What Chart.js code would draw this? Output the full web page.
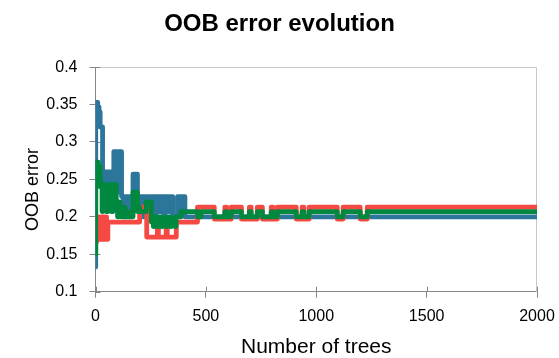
<!DOCTYPE html>
<html>
<head>
<meta charset="utf-8">
<script src="https://cdn.jsdelivr.net/npm/chart.js@4.4.1/dist/chart.umd.min.js"></script>
<style>
  html, body { margin: 0; padding: 0; background: #ffffff; }
  #wrap { width: 559px; height: 358px; }
</style>
</head>
<body>
<div id="wrap"><canvas id="c" width="559" height="358"></canvas></div>
<script>
// ---- data (number of trees -> OOB error), step points ----
const blueTrees = [0,1,10,16,21,32,38,42,48,52,58,62,68,72,78,83,90,94,100,104,110,114,118,126,130,140,144,154,158,170,178,182,190,200,204,214,218,232,236,250,254,270,274,290,294,310,314,330,334,350,372,385,389,405,2000];
const blueOOB   = [0.133,0.353,0.347,0.34,0.32,0.26,0.233,0.26,0.227,0.26,0.233,0.26,0.24,0.26,0.233,0.287,0.247,0.287,0.233,0.287,0.24,0.287,0.227,0.207,0.227,0.213,0.227,0.2,0.227,0.257,0.22,0.257,0.227,0.213,0.227,0.2,0.227,0.2,0.227,0.207,0.227,0.2,0.227,0.207,0.227,0.2,0.227,0.207,0.227,0.2,0.227,0.207,0.227,0.2,0.2];

const redTrees = [0,1,6,10,16,20,26,30,36,40,46,50,56,200,232,280,285,320,325,366,462,538,586,594,615,661,697,705,733,756,796,804,824,909,936,944,968,1095,1122,1199,1231,2000];
const redOOB   = [0.2,0.167,0.2,0.17,0.2,0.17,0.2,0.17,0.2,0.17,0.2,0.17,0.193,0.213,0.173,0.187,0.173,0.187,0.173,0.193,0.213,0.197,0.213,0.197,0.213,0.197,0.213,0.197,0.213,0.197,0.213,0.197,0.213,0.197,0.213,0.197,0.213,0.197,0.213,0.197,0.213,0.213];

const greenTrees = [0,1,12,20,22,30,34,49,57,72,79,94,100,104,110,118,130,134,150,155,170,190,196,200,230,253,262,266,280,284,300,304,320,324,340,344,360,365,388,463,478,538,586,594,615,661,697,705,733,756,796,804,824,909,936,944,968,1095,1122,1199,1231,2000];
const greenOOB   = [0.15,0.273,0.267,0.253,0.24,0.207,0.243,0.207,0.243,0.207,0.243,0.22,0.2,0.22,0.207,0.2,0.213,0.2,0.207,0.2,0.233,0.207,0.213,0.207,0.22,0.193,0.187,0.2,0.187,0.2,0.187,0.197,0.187,0.2,0.187,0.197,0.187,0.2,0.207,0.2,0.207,0.2,0.207,0.2,0.207,0.2,0.207,0.2,0.207,0.2,0.207,0.2,0.207,0.2,0.207,0.2,0.207,0.2,0.207,0.2,0.207,0.207];

const xTicks = [0, 500, 1000, 1500, 2000];
const yTicks = [0.1, 0.15, 0.2, 0.25, 0.3, 0.35, 0.4];

const titleText = 'OOB error evolution';
const xTitle = 'Number of trees';
const yTitle = 'OOB error\u00A0\u00A0\u00A0\u00A0';

// ---- helpers ----
const pts = (xs, ys) => xs.map((x, i) => ({ x: x, y: ys[i] }));
const FONT = "'Liberation Sans', Arial, sans-serif";
const AXIS = '#868686';

const innerTicks = {
  id: 'innerTicks',
  beforeDatasetsDraw(chart) {
    const { ctx, chartArea: a, scales } = chart;
    ctx.save();
    // light top/right frame
    ctx.strokeStyle = '#C8C8C8';
    ctx.lineWidth = 1;
    ctx.beginPath();
    ctx.moveTo(Math.round(a.left) + 0.5, Math.round(a.top) + 0.5);
    ctx.lineTo(Math.round(a.right) - 0.5, Math.round(a.top) + 0.5);
    ctx.lineTo(Math.round(a.right) - 0.5, Math.round(a.bottom));
    ctx.stroke();
    // inner half of crossing tick marks
    ctx.strokeStyle = AXIS;
    ctx.beginPath();
    xTicks.forEach(v => {
      const px = Math.round(scales.x.getPixelForValue(v)) + 0.5;
      ctx.moveTo(px, a.bottom);
      ctx.lineTo(px, a.bottom - 5);
    });
    yTicks.forEach(v => {
      const py = Math.round(scales.y.getPixelForValue(v)) + 0.5;
      ctx.moveTo(a.left, py);
      ctx.lineTo(a.left + 5, py);
    });
    ctx.stroke();
    ctx.restore();
  }
};

new Chart(document.getElementById('c'), {
  type: 'line',
  data: {
    datasets: [
      { label: 'blue', data: pts(blueTrees, blueOOB), borderColor: '#2C759B', order: 3 },
      { label: 'red', data: pts(redTrees, redOOB), borderColor: '#F64943', order: 2 },
      { label: 'green', data: pts(greenTrees, greenOOB), borderColor: '#00883E', order: 1 }
    ]
  },
  options: {
    responsive: false,
    animation: false,
    devicePixelRatio: 1,
    layout: { padding: { left: 0, right: 0, top: 0, bottom: 0 } },
    elements: {
      line: { borderWidth: 4.8, stepped: true, tension: 0, fill: false, borderJoinStyle: 'round', borderCapStyle: 'round' },
      point: { radius: 0, hoverRadius: 0 }
    },
    plugins: {
      legend: { display: false },
      tooltip: { enabled: false },
      title: {
        display: true,
        text: titleText,
        color: '#000',
        font: { family: FONT, size: 24, weight: 'bold' },
        padding: { top: 10.3, bottom: 28.0 }
      }
    },
    scales: {
      x: {
        type: 'linear',
        min: 0, max: 2000,
        afterBuildTicks: s => { s.ticks = xTicks.map(v => ({ value: v })); },
        afterFit: s => { s.height = 66.3; s.paddingRight = 22; s.paddingLeft = 0; },
        ticks: { color: '#000', font: { family: FONT, size: 16 }, padding: 9, maxRotation: 0, autoSkip: false,
                 callback: v => String(v) },
        grid: { display: true, drawOnChartArea: false, drawTicks: true, tickLength: 6, color: AXIS },
        border: { display: true, color: AXIS, width: 1 },
        title: { display: true, text: xTitle, color: '#000', font: { family: FONT, size: 21, lineHeight: 1.05 }, padding: { top: 0, bottom: 0 } }
      },
      y: {
        type: 'linear',
        min: 0.1, max: 0.4,
        afterBuildTicks: s => { s.ticks = yTicks.map(v => ({ value: v })); },
        afterFit: s => { s.width = 95.5; },
        ticks: { color: '#000', font: { family: FONT, size: 16 }, padding: 12, autoSkip: false,
                 callback: v => String(+Number(v).toFixed(2)) },
        grid: { display: true, drawOnChartArea: false, drawTicks: true, tickLength: 6, color: AXIS },
        border: { display: true, color: AXIS, width: 1 },
        title: { display: true, text: yTitle, color: '#000', font: { family: FONT, size: 18 }, padding: { top: 22.2, bottom: 0 } }
      }
    }
  },
  plugins: [innerTicks]
});
</script>
</body>
</html>
